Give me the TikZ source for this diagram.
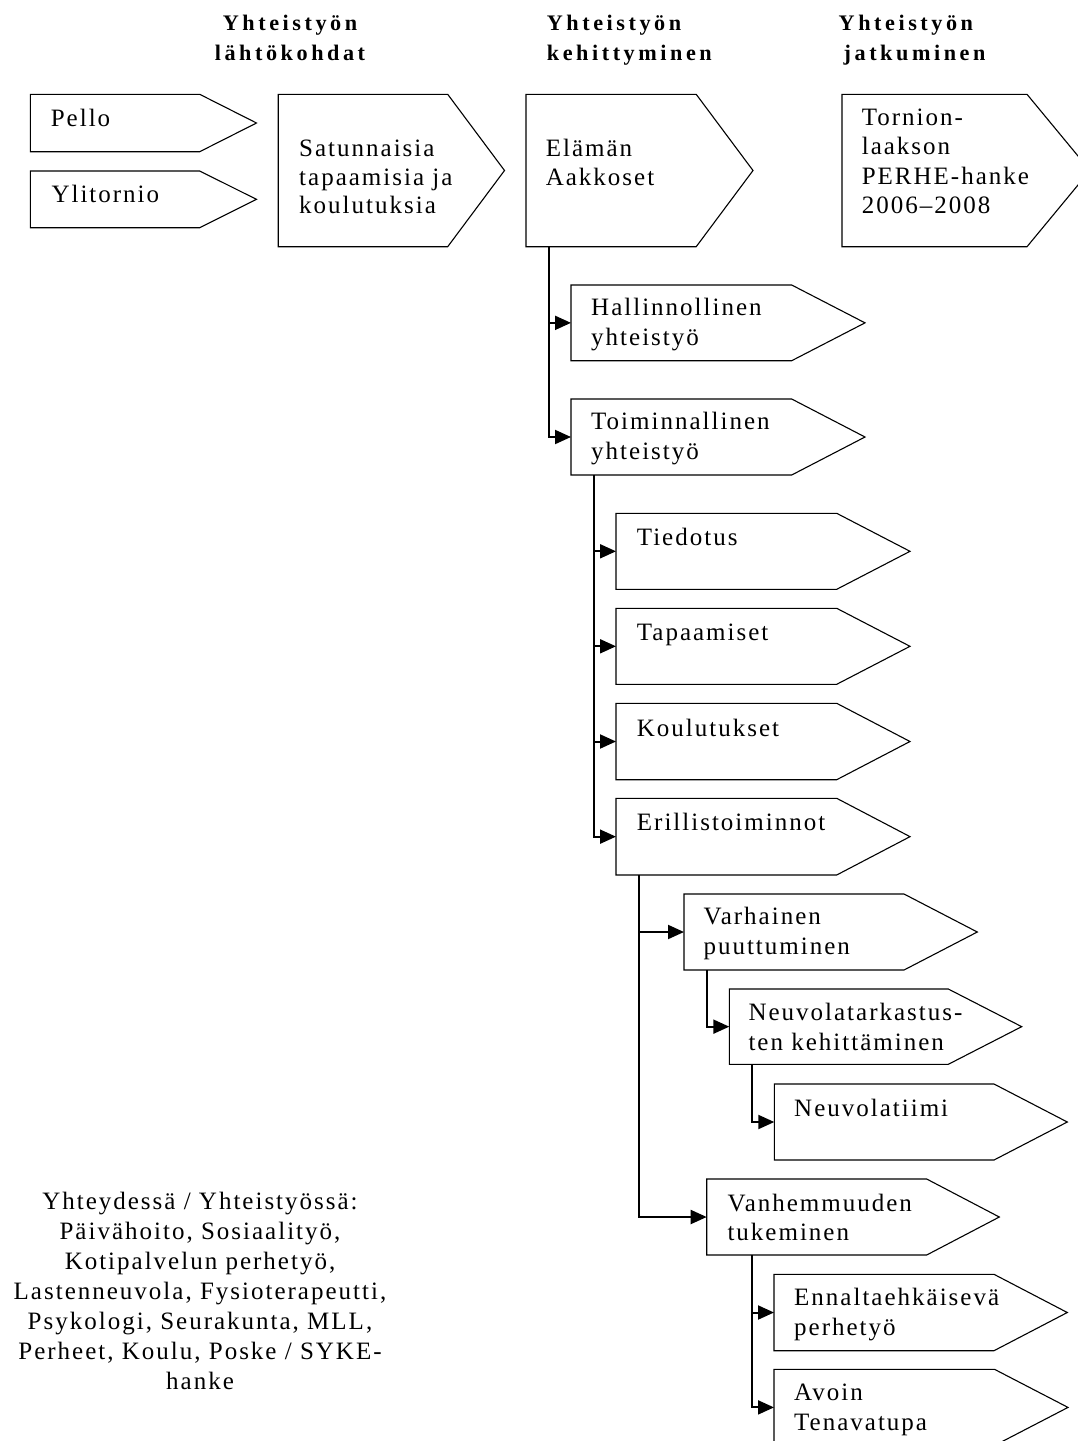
\documentclass[tikz,border=0pt]{standalone}
\usepackage{fontspec}
\setmainfont{Liberation Serif}
\newfontfamily\bodyfont[LetterSpace=8]{Liberation Serif}
\newfontfamily\headfont[LetterSpace=16]{Liberation Serif}
\usetikzlibrary{arrows.meta}

\tikzset{
  boxline/.style={draw=black, line width=1.1pt, line join=miter, fill=white},
  txt/.style={font=\bodyfont\fontsize{25}{29.5}\selectfont, inner sep=0pt, align=left, anchor=base west},
  bigtxt/.style={txt, font=\bodyfont\fontsize{25}{28.4}\selectfont},
  head/.style={font=\headfont\bfseries\fontsize{22.2}{30}\selectfont, inner sep=0pt},
  conn/.style={line width=2pt, -{Triangle[length=16pt,width=14pt]}},
}

% pentagon-shaped box: name, left, top, shoulder x, bottom, tip x
\newcommand\arrowbox[6]{%
  \node[inner sep=0pt, outer sep=0pt, minimum width={(#4-#2)*1pt},
        minimum height={(#5-#3)*1pt}, anchor=north west] (#1) at (#2,#3) {};
  \draw[boxline] (#1.north west) -- (#1.north east) -- (#6,{(#3+#5)/2})
    -- (#1.south east) -- (#1.south west) -- cycle;
}

\begin{document}
\begin{tikzpicture}[x=1pt, y=-1pt]
  \useasboundingbox (0,0) rectangle (1078,1441);
  \clip (0,0) rectangle (1078,1441);
  \fill[white] (0,0) rectangle (1078,1441);

  % column headings (multi-line nodes: base = baseline of the last line)
  \node[head, align=center, anchor=base] (h1) at (290,60) {Yhteistyön\\lähtökohdat};
  \node[head, align=left, anchor=base west] (h2) at (546.7,60) {Yhteistyön\\kehittyminen};
  \node[head, align=left, anchor=base west] (h3) at (838.5,60) {Yhteistyön\\\hspace*{5pt}jatkuminen};

  % top row
  \arrowbox{pello}{30.3}{94.3}{199.7}{151.7}{256.5}
  \arrowbox{ylit}{30.3}{171}{199.7}{227.7}{256.5}
  \arrowbox{satu}{278.2}{94.3}{447.7}{246.7}{504.5}
  \arrowbox{elama}{526}{94.3}{696.2}{246.7}{753}
  \arrowbox{torn}{842}{94.3}{1027}{246.7}{1090}

  \node[txt] (pello-t) at ([xshift=20.3pt,yshift=-32.4pt]pello.north west) {Pello};
  \node[txt] (ylit-t) at ([xshift=21pt,yshift=-31.3pt]ylit.north west) {Ylitornio};
  \node[bigtxt] (satu-t) at ([xshift=20.8pt,yshift=-119.2pt]satu.north west) {Satunnaisia\\tapaamisia ja\\koulutuksia};
  \node[bigtxt] (elama-t) at ([xshift=19.6pt,yshift=-90.8pt]elama.north west) {Elämän\\Aakkoset};
  \node[txt] (torn-t) at ([xshift=19.6pt,yshift=-119.2pt]torn.north west) {Tornion-\\laakson\\PERHE-hanke\\2006–2008};

  % second level
  \arrowbox{hall}{571}{285}{791.7}{360.7}{865}
  \arrowbox{toim}{571}{399}{791.7}{475}{865}
  \node[txt] (hall-t) at ([xshift=20pt,yshift=-60pt]hall.north west) {Hallinnollinen\\yhteistyö};
  \node[txt] (toim-t) at ([xshift=20pt,yshift=-60.3pt]toim.north west) {Toiminnallinen\\yhteistyö};

  % third level
  \arrowbox{tied}{616}{513.3}{836.7}{589.3}{910}
  \arrowbox{tapa}{616}{608.3}{836.7}{684.3}{910}
  \arrowbox{koul}{616}{703.3}{836.7}{779.7}{910}
  \arrowbox{eril}{616}{798.3}{836.7}{875}{910}
  \node[txt] (tied-t) at ([xshift=20.7pt,yshift=-31.7pt]tied.north west) {Tiedotus};
  \node[txt] (tapa-t) at ([xshift=20.7pt,yshift=-32.4pt]tapa.north west) {Tapaamiset};
  \node[txt] (koul-t) at ([xshift=20.7pt,yshift=-32.7pt]koul.north west) {Koulutukset};
  \node[txt] (eril-t) at ([xshift=20.7pt,yshift=-32.4pt]eril.north west) {Erillistoiminnot};

  % fourth level and below
  \arrowbox{varh}{684}{894}{904}{970}{977.3}
  \arrowbox{neuv}{729.3}{989}{948.3}{1064.3}{1021.7}
  \arrowbox{ntiimi}{774.3}{1084}{994}{1160}{1067.3}
  \arrowbox{vanh}{706.7}{1179}{926.7}{1255}{999.3}
  \arrowbox{enna}{774}{1274.3}{994}{1350.7}{1067.3}
  \arrowbox{avoin}{774}{1369.3}{994.5}{1445.5}{1068}
  \node[txt] (varh-t) at ([xshift=19.3pt,yshift=-60pt]varh.north west) {Varhainen\\puuttuminen};
  \node[txt] (neuv-t) at ([xshift=19pt,yshift=-61pt]neuv.north west) {Neuvolatarkastus-\\ten kehittäminen};
  \node[txt] (ntiimi-t) at ([xshift=19.7pt,yshift=-32pt]ntiimi.north west) {Neuvolatiimi};
  \node[txt] (vanh-t) at ([xshift=20.6pt,yshift=-61.5pt]vanh.north west) {Vanhemmuuden\\tukeminen};
  \node[txt] (enna-t) at ([xshift=20pt,yshift=-60.7pt]enna.north west) {Ennaltaehkäisevä\\perhetyö};
  \node[txt] (avoin-t) at ([xshift=20pt,yshift=-60.7pt]avoin.north west) {Avoin\\Tenavatupa};

  % connectors
  \draw[conn] ([xshift=22.5pt]elama.south west) |- (hall.west);
  \draw[conn] ([xshift=22.5pt]elama.south west) |- (toim.west);
  \foreach \c in {tied,tapa,koul,eril}
    \draw[conn] ([xshift=22.5pt]toim.south west) |- (\c.west);
  \draw[conn] ([xshift=23pt]eril.south west) |- (varh.west);
  \draw[conn] ([xshift=23pt]eril.south west) |- (vanh.west);
  \draw[conn] ([xshift=22.7pt]varh.south west) |- (neuv.west);
  \draw[conn] ([xshift=22.4pt]neuv.south west) |- (ntiimi.west);
  \draw[conn] ([xshift=45pt]vanh.south west) |- (enna.west);
  \draw[conn] ([xshift=45pt]vanh.south west) |- (avoin.west);

  % partners
  \node[txt, font=\bodyfont\fontsize{25}{30}\selectfont, align=center, anchor=base] (note) at (200,1389)
    {Yhteydessä / Yhteistyössä:\\Päivähoito, Sosiaalityö,\\Kotipalvelun perhetyö,\\Lastenneuvola, Fysioterapeutti,\\Psykologi, Seurakunta, MLL,\\Perheet, Koulu, Poske / SYKE-\\hanke};
\end{tikzpicture}
\end{document}
